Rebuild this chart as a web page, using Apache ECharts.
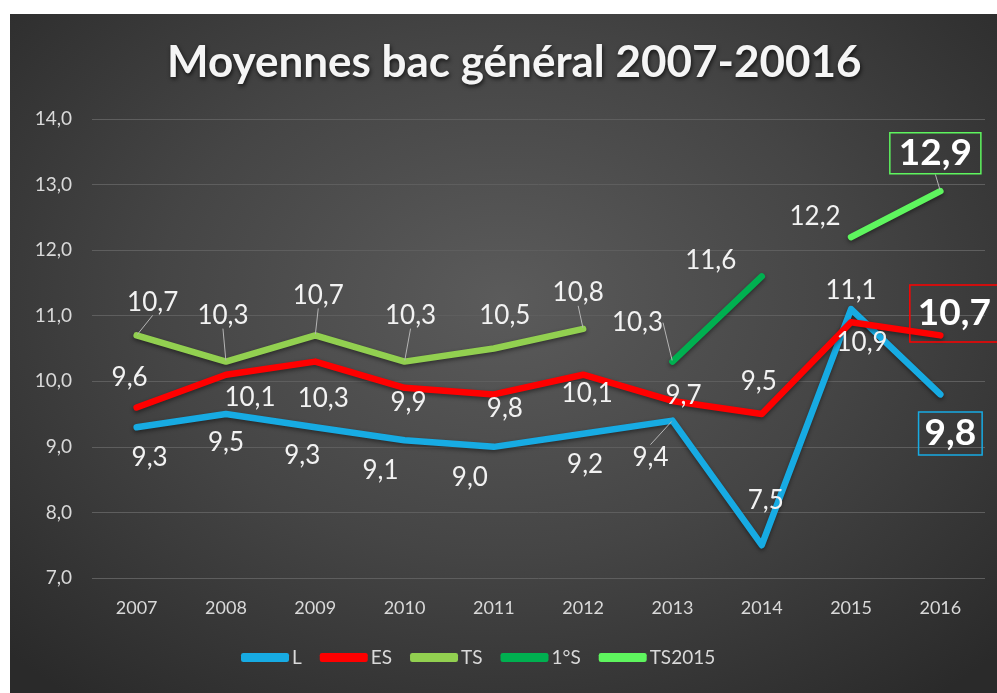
<!DOCTYPE html>
<html><head><meta charset="utf-8">
<script src="https://cdn.jsdelivr.net/npm/echarts@6/dist/echarts.min.js"></script>
<style>
html,body{margin:0;padding:0;background:#fff;width:997px;height:693px;overflow:hidden;}
#bg{position:absolute;left:10px;top:14px;width:987px;height:679px;
 background:radial-gradient(ellipse 70% 75% at 50% 42%, #5b5b5b 0%, #454545 50%, #2a2a2a 100%);}
#chart{position:absolute;left:0;top:0;width:997px;height:693px;}
</style></head><body><div id="bg"></div><div id="chart"></div>
<script>
const years = ['2007','2008','2009','2010','2011','2012','2013','2014','2015','2016'];
const serieL   = [9.3, 9.5, 9.3, 9.1, 9.0, 9.2, 9.4, 7.5, 11.1, 9.8];
const serieES  = [9.6, 10.1, 10.3, 9.9, 9.8, 10.1, 9.7, 9.5, 10.9, 10.7];
const serieTS  = [10.7, 10.3, 10.7, 10.3, 10.5, 10.8, null, null, null, null];
const serie1S  = [null, null, null, null, null, null, 10.3, 11.6, null, null];
const serieTS15 = [null, null, null, null, null, null, null, null, 12.2, 12.9];
const yTicks = [7, 8, 9, 10, 11, 12, 13, 14];

const names = ['L','ES','TS','1°S','TS2015'];
const values = [serieL, serieES, serieTS, serie1S, serieTS15];
const colors = ['#17abe3','#ff0000','#92d050','#00b050','#5ef55e'];

// label placement (offset of label centre from the point), styling only
const offsets = [
  [[13,30],[0,29],[-13,28],[-24,30],[-24,31],[2,31],[-22,37],[4,-45],[0,-19],[10,39]],
  [[-7,-30],[24,23],[8,37],[4,15],[11,14],[4,19],[11,-5],[-3,-32],[11,20],[14,-22]],
  [[16,-33],[-3,-46],[3,-40],[6,-46],[11,-33],[-5,-36],null,null,null,null],
  [null,null,null,null,null,null,[-35,-39],[-51,-16],null,null],
  [null,null,null,null,null,null,null,null,[-36,-20],[-5,-38]]
];
const leaders = [
  [6],[ ],[0,1,2,3,5],[6],[9]
];
const boxed = {0:9, 1:9, 4:9};
const boxPad = {0:[4,6,2,6], 1:[12,8,8,8], 4:[3,9,1,9]};

function fmt(v){ return v.toFixed(1).replace('.', ','); }

const series = names.map(function(n, si){
  return {
    name: n, type: 'line',
    data: values[si].map(function(v, i){
      const item = {value: v};
      if (leaders[si].indexOf(i) >= 0) item.labelLine = {show: true};
      if (boxed[si] === i) item.label = {fontSize: 37, fontWeight: 'bold', color: '#fff',
        borderColor: colors[si], borderWidth: 1.5, padding: boxPad[si]};
      return item;
    }),
    symbol: 'circle', symbolSize: 2, showSymbol: true,
    connectNulls: false,
    lineStyle: {width: 6.5, color: colors[si], cap: 'round', join: 'round',
      shadowColor: 'rgba(0,0,0,0.45)', shadowBlur: 4, shadowOffsetY: 2},
    itemStyle: {color: colors[si]},
    emphasis: {disabled: true},
    label: {show: true, position: 'inside', fontFamily: 'Lato', fontSize: 26, color: '#f2f2f2',
      formatter: function(p){ return fmt(p.value); }},
    labelLine: {show: false, lineStyle: {color: '#b5b5b5', width: 1}},
    labelLayout: function(p){
      const o = offsets[si][p.dataIndex];
      return o ? {dx: o[0], dy: o[1]} : {};
    },
    z: 2 + si
  };
});

const chart = echarts.init(document.getElementById('chart'));
chart.setOption({
  animation: false,
  backgroundColor: 'transparent',
  title: {text: 'Moyennes bac général 2007-20016', left: 162, top: 36,
    textStyle: {fontFamily: 'Lato', fontSize: 44, fontWeight: 'bold', color: '#f5f5f5',
      textShadowColor: 'rgba(0,0,0,0.7)', textShadowBlur: 4, textShadowOffsetX: 1, textShadowOffsetY: 2}},
  legend: {bottom: 21, left: 236, itemWidth: 48, itemHeight: 9, itemGap: 18,
    icon: 'roundRect',
    textStyle: {fontFamily: 'Lato', fontSize: 19, color: '#d9d9d9', padding: [0,0,0,-2]},
    data: names},
  grid: {left: 92, right: 12, top: 119, bottom: 115},
  xAxis: {type: 'category', data: years, boundaryGap: true,
    axisLine: {show: false}, axisTick: {show: false},
    axisLabel: {fontFamily: 'Lato', fontSize: 18, color: '#d9d9d9', margin: 21}},
  yAxis: {type: 'value', min: yTicks[0], max: yTicks[yTicks.length-1], interval: 1,
    axisLine: {show: false}, axisTick: {show: false},
    splitLine: {lineStyle: {color: '#5e5e5e', width: 1}},
    axisLabel: {fontFamily: 'Lato', fontSize: 19, color: '#d9d9d9', margin: 20,
      formatter: function(v){ return fmt(v); }}},
  series: series
});
</script></body></html>
